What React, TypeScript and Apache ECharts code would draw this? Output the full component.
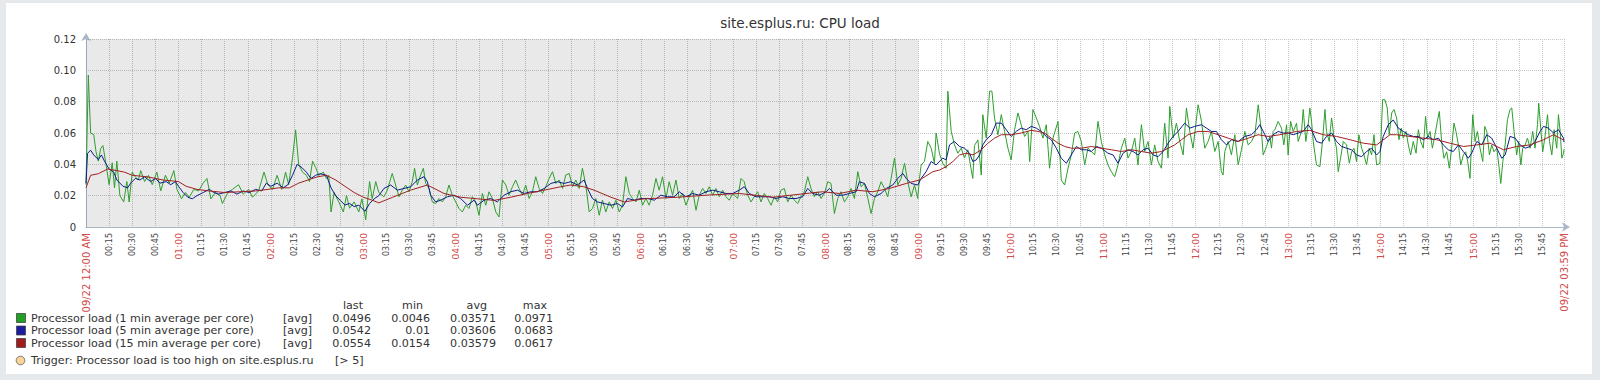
import React, { useEffect, useRef } from "react";
import * as echarts from "echarts";

// time in minutes since 09/22 00:00, value = load
const load1: [number, number][] = [
  [0,0.027],[1.5,0.097],[3,0.060],[5,0.059],[6.5,0.048],[8,0.042],[9.5,0.050],[11,0.052],[13,0.040],[15,0.027],[17,0.041],[18.5,0.025],[20,0.042],[22,0.020],[24.5,0.016],[26.5,0.029],[28,0.016],[30,0.035],[32,0.032],[34,0.030],[35.5,0.036],[38,0.029],[40.5,0.033],[43,0.027],[46,0.035],[48.5,0.023],[51.5,0.033],[54,0.028],[57,0.036],[59,0.024],[62,0.018],[64.5,0.022],[67,0.019],[70,0.024],[73,0.023],[76,0.028],[78.5,0.031],[81,0.018],[84,0.022],[87,0.020],[88.5,0.015],[92,0.022],[95,0.024],[99,0.027],[102,0.021],[105.5,0.024],[108,0.019],[112,0.023],[115.5,0.035],[118,0.027],[121,0.024],[124,0.033],[127,0.024],[129.5,0.035],[131.5,0.027],[134,0.044],[136,0.062],[138,0.040],[140.5,0.035],[143,0.033],[145,0.029],[147,0.042],[149,0.038],[151,0.033],[154,0.035],[156,0.031],[157.5,0.033],[159,0.0096],[161,0.022],[164,0.016],[167,0.0096],[169,0.020],[171,0.012],[174,0.016],[177,0.0096],[179,0.018],[181.5,0.0046],[184,0.029],[185.7,0.018],[188,0.029],[190,0.022],
  [193.3,0.0193],[195.5,0.0235],[198.7,0.0342],[200.9,0.0268],[203.1,0.0193],[205.2,0.0235],[207.4,0.0268],[209.6,0.0225],[211.7,0.0289],[213.2,0.0375],[215,0.0268],[217.1,0.0332],[218.9,0.0375],[220.4,0.0278],[222.6,0.0246],[224.7,0.016],[226.9,0.015],[229,0.0182],[231.2,0.016],[233.4,0.0193],[235.5,0.0268],[237.7,0.0203],[239.9,0.016],[242,0.0118],[244.2,0.0096],[246.4,0.0139],[248.5,0.0118],[250.7,0.0193],[252.9,0.016],[255,0.0075],[257.2,0.0214],[259.4,0.0139],[261.5,0.0225],[263.7,0.0182],[265.9,0.0096],[268,0.0064],[270.2,0.030],[272.4,0.0268],[274.5,0.0203],[276.7,0.0257],[278.8,0.030],[281,0.0246],[283.2,0.0203],[285.3,0.0268],[287.5,0.0182],[289.7,0.0225],[291.8,0.0321],[294,0.0246],[296.2,0.0214],[298.3,0.0257],[300.5,0.031],[302.7,0.0353],[304.8,0.0278],[307,0.030],[309.2,0.0246],[311.3,0.0332],[313.5,0.0342],[315.7,0.0257],[317.8,0.030],[320,0.0246],[322.1,0.0375],[324.3,0.0268],[326.5,0.0096],[328.6,0.0118],[330.8,0.0182],[333,0.0075],[335.1,0.0171],[337.3,0.0096],[339.5,0.016],[341.6,0.0118],[343.8,0.0171],[346,0.0096],[348.1,0.0139],[350.3,0.0321],[352.5,0.0214],[354.6,0.0182],[356.8,0.016],[359,0.0235],[361.1,0.0139],[363.3,0.0182],[365.4,0.0139],[367.6,0.0203],[369.8,0.031],[371.9,0.0235],[374.1,0.0321],[376.3,0.0182],[378.4,0.0289],[380.6,0.0203],
  [382.8,0.030],[384.9,0.0182],[387.1,0.0214],[389.3,0.0139],[391.4,0.0193],[393.6,0.0235],[395.8,0.0107],[397.9,0.0203],[400.1,0.0246],[402.3,0.0214],[404.4,0.0257],[406.6,0.0203],[408.7,0.0246],[410.9,0.0193],[413.1,0.0235],[415.2,0.0193],[417.4,0.0171],[419.6,0.0214],[422.8,0.0182],[425,0.031],[427.1,0.0289],[429.3,0.0203],[431.5,0.016],[433.6,0.0193],[435.8,0.0225],[438,0.016],[440.1,0.0214],[442.3,0.0182],[444.5,0.0139],[446.6,0.0193],[448.8,0.016],[450.9,0.0235],[453.1,0.0246],[455.3,0.016],[457.5,0.0203],[459.6,0.0171],[461.8,0.015],[463.9,0.0193],[466.1,0.0225],[468.3,0.0321],[470.4,0.0246],[472.6,0.0193],[474.8,0.0225],[476.9,0.0182],[479.1,0.0214],[481.3,0.0289],[483.4,0.0278],[485.6,0.0086],[487.8,0.0182],[489.9,0.0225],[492.1,0.016],[494.3,0.0193],[496.4,0.0246],[498.6,0.0182],[500.8,0.0353],[502.9,0.0257],[505.1,0.0278],[507.3,0.0182],[509.4,0.0086],[511.6,0.0182],[513.7,0.0225],[515.9,0.0289],[518.1,0.0246],[520.2,0.0193],[522.4,0.031],[524.6,0.044],[526.7,0.0268],[528.9,0.031],[531.1,0.0407],[533.2,0.0289],[535.4,0.0193],[537.6,0.0268],[539.7,0.0182],[540.8,0.031],[541.9,0.0396],[544,0.0418],[546.2,0.0546],[548.4,0.0503],[550.5,0.0407],[551.6,0.060],[553.8,0.0467],[555.9,0.0407],[558.1,0.0375],[559.2,0.0867],[561.4,0.061],[563.5,0.0525],[565.7,0.0471],[567.9,0.0503],[570,0.044],[572.2,0.0493],[574.4,0.0364],
  [575.4,0.031],[576.5,0.052],[578.7,0.0556],[580.9,0.0332],[581.9,0.0717],[584.1,0.0567],[586.3,0.0867],[587.8,0.0867],[589.5,0.0696],[591.7,0.0589],[593.9,0.0717],[596,0.061],[598.2,0.0503],[600.3,0.0428],[602.5,0.0621],[604.7,0.0728],[606.8,0.0653],[609,0.0578],[611.2,0.061],[612.3,0.0417],[614.4,0.075],[616.6,0.0696],[618.7,0.0642],[620.9,0.0567],[623.1,0.0653],[625.2,0.0375],[627.4,0.0567],[630.7,0.0674],[632.8,0.030],[635,0.0268],[637.2,0.0375],[639.3,0.046],[641.5,0.06],[643.6,0.061],[645.8,0.0546],[648,0.0396],[650.1,0.0503],[652.3,0.0482],[654.5,0.046],[656.6,0.0674],[658.8,0.0546],[661,0.046],[663.1,0.0396],[665.3,0.0353],[667.5,0.0321],[669.6,0.0396],[671.8,0.0503],[674,0.0567],[676.1,0.044],[678.3,0.0482],[680.5,0.0567],[682.6,0.0396],[684.8,0.0653],[686.9,0.0482],[689.1,0.0546],[691.3,0.0396],[693.4,0.0524],[695.6,0.0418],[697.8,0.0375],[699.9,0.0663],[702.1,0.044],[703.2,0.077],[705.4,0.0567],[707.5,0.0663],[709.7,0.0546],[711.9,0.046],[714,0.076],[716.2,0.061],[718.3,0.0503],[721.6,0.078],[723.8,0.0674],[725.9,0.0503],[728.1,0.0546],[730.2,0.061],[732.4,0.0482],[734.6,0.0546],[736.7,0.0353],[737.8,0.0332],[738.9,0.0482],[741.1,0.0546],[743.2,0.046],[745.4,0.0589],[747.6,0.0396],[749.7,0.0493],[751.9,0.061],[754.1,0.0524],[756.2,0.0546],[758.4,0.0589],[760.6,0.078],[762.7,0.061],[763.8,0.046],
  [766,0.0514],[768.1,0.0578],[769.2,0.0503],[770.3,0.061],[771.4,0.0621],[773.5,0.0674],[775.7,0.0631],[777.2,0.0524],[779,0.0653],[780,0.046],[781.6,0.0674],[783.3,0.061],[785.5,0.0663],[786.5,0.0546],[788.7,0.061],[789.8,0.075],[791.5,0.0546],[793,0.0653],[794.1,0.076],[795.2,0.0674],[796.3,0.0546],[798.4,0.0396],[800.6,0.0385],[802.3,0.0546],[803.9,0.075],[804.9,0.061],[806.7,0.0546],[808.2,0.0696],[809.7,0.0578],[811.4,0.0503],[812.5,0.0353],[814,0.0439],[815.8,0.0546],[817.9,0.0524],[819.7,0.0407],[821.2,0.048],[822.7,0.0503],[824.4,0.0418],[825.9,0.0589],[827.7,0.0503],[829.2,0.046],[830.9,0.0396],[832.6,0.0503],[834.2,0.046],[835.7,0.0589],[837.4,0.0396],[839.6,0.0407],[841.3,0.0813],[842.8,0.0813],[844.3,0.076],[845.6,0.0589],[847.2,0.0728],[848.7,0.075],[850.4,0.0696],[851.9,0.0557],[853.4,0.0631],[854.7,0.0567],[856.5,0.061],[858,0.0524],[859.5,0.046],[861.2,0.0546],[863,0.0471],[864.5,0.0621],[866,0.0546],[867.7,0.0503],[869.2,0.0706],[870.5,0.0567],[872.1,0.061],[873.6,0.0503],[875.3,0.0589],[876.8,0.0674],[878.1,0.0738],[879.6,0.0546],[881.1,0.0439],[882.9,0.048],[884.6,0.0375],[886.1,0.0503],[887.6,0.0663],[888.9,0.061],[890.5,0.0524],[892,0.0396],[893.7,0.046],[895.2,0.048],[896.5,0.0418],[898,0.031],[899.8,0.0717],[901.3,0.0546],[902.8,0.061],[904.5,0.0503],[906.3,0.0418],[907.6,0.0642],[908.9,0.061],[910.6,0.046],[912.1,0.0524],[913.6,0.048],[915.4,0.0503],[916.7,0.0396],[918,0.0278],[919.3,0.0418],[920.8,0.0524],[922.3,0.0685],[924,0.075],[925.1,0.076],[926.6,0.061],[928.3,0.046],[929.6,0.0546],[931,0.0396],[932.2,0.0503],[933.8,0.0524],[935.3,0.0567],[937,0.0503],[938.7,0.061],[940.2,0.0503],[941.8,0.0653],[942.6,0.079],[943.9,0.0631],[945.2,0.048],[946.7,0.0578],[948.3,0.0717],[949.6,0.0546],[951.1,0.046],[952.6,0.0621],[954.3,0.0503],[955.4,0.0717],[956.5,0.061],[957.6,0.0439],[958.7,0.0471],[959,0.0496]
];

const load5: [number, number][] = [
  [0,0.028],[1,0.047],[3,0.049],[5,0.046],[8,0.043],[10,0.046],[12,0.042],[15,0.037],[18,0.035],[20,0.030],[24,0.026],[27,0.025],[29,0.028],[32,0.031],[35,0.030],[38,0.032],[42,0.029],[45,0.031],[48,0.028],[52,0.029],[55,0.027],[58,0.029],[60,0.026],[63,0.022],[66,0.019],[69,0.018],[72,0.020],[76,0.022],[80,0.024],[83,0.022],[86,0.021],[90,0.022],[94,0.023],[98,0.021],[102,0.023],[106,0.022],[110,0.024],[114,0.023],[117,0.028],[120,0.026],[124,0.028],[128,0.025],[131,0.027],[134,0.033],[137,0.040],[140,0.038],[143,0.035],[146,0.031],[149,0.033],[152,0.034],[156,0.033],[159,0.025],[162,0.020],[165,0.017],[168,0.014],[171,0.015],[174,0.013],[177,0.014],[181,0.010],[184,0.015],[187,0.018],[190,0.020],
  [193.3,0.0246],[197.7,0.0268],[202,0.0235],[206.3,0.0246],[210.7,0.0257],[215,0.030],[219.3,0.0321],[221.5,0.0289],[223.6,0.0203],[226.9,0.016],[230.1,0.0171],[234.5,0.0193],[238.8,0.0203],[243.1,0.0182],[247.5,0.0139],[251.8,0.0171],[254,0.0139],[258.3,0.0171],[262.6,0.0182],[266.9,0.016],[271.3,0.0203],[275.6,0.0225],[279.9,0.0235],[284.3,0.0214],[288.6,0.0225],[292.9,0.0225],[297.3,0.0246],[301.6,0.0278],[305.9,0.0289],[310.2,0.0278],[314.6,0.0289],[318.9,0.0268],[323.2,0.030],[325.4,0.0246],[328.6,0.0182],[331.9,0.016],[336.2,0.015],[340.6,0.0139],[344.9,0.015],[348.1,0.0128],[351.4,0.0182],[355.7,0.0171],[360,0.0182],[364.4,0.0182],[368.7,0.0171],[373,0.0203],[377.4,0.0193],[381.7,0.0193],
  [384.9,0.0225],[389.3,0.0193],[393.6,0.0214],[397.9,0.0203],[402.3,0.0225],[406.6,0.0235],[410.9,0.0225],[415.2,0.0214],[419.6,0.0214],[423.9,0.0235],[427.1,0.0257],[430.4,0.0214],[434.7,0.0193],[439,0.0193],[443.4,0.0193],[447.7,0.0182],[452,0.0193],[456.4,0.0182],[460.7,0.0182],[465,0.0193],[468.3,0.0246],[471.5,0.0214],[475.9,0.0203],[480.2,0.0225],[482.4,0.0246],[486.7,0.0203],[491,0.0203],[495.3,0.0214],[499.7,0.0225],[501.8,0.0289],[505.1,0.0278],[508.3,0.0214],[511.6,0.0193],[515.9,0.0214],[519.2,0.0246],[523.5,0.0268],[526.7,0.031],[530,0.0342],[532.2,0.031],[535.4,0.0278],[539.7,0.0268],[541.9,0.031],[545.1,0.0353],[548.4,0.0418],[551.6,0.0396],[555.9,0.044],[558.1,0.0428],[560.3,0.0524],[563.5,0.0546],[566.8,0.0514],[570,0.0503],[573.3,0.0471],
  [575.4,0.0418],[577.6,0.0428],[579.8,0.046],[581.9,0.0524],[584.1,0.0557],[587.4,0.0589],[590.6,0.0663],[593.9,0.0663],[597.1,0.0621],[600.3,0.0578],[603.6,0.061],[606.8,0.0631],[610.1,0.0621],[613.3,0.0642],[616.6,0.0631],[619.8,0.061],[623.1,0.0578],[626.3,0.0557],[629.6,0.0503],[632.8,0.0439],[636.1,0.0407],[639.3,0.046],[642.6,0.0514],[645.8,0.0493],[649.1,0.0493],[652.3,0.0482],[655.6,0.0514],[658.8,0.0503],[663.1,0.0471],[666.4,0.046],[669.6,0.0407],[672.9,0.0471],[676.1,0.0493],[679.4,0.0482],[682.6,0.046],[685.9,0.0493],[689.1,0.0503],[692.4,0.046],[695.6,0.0449],[698.9,0.0482],[702.1,0.0535],[705.4,0.0578],[708.6,0.061],[712.9,0.0663],[716.2,0.0631],[719.4,0.0642],[723.8,0.0653],[727,0.0631],[730.2,0.061],[733.5,0.061],[736.7,0.0557],[740,0.0524],[743.2,0.0557],[747.6,0.0546],[751.9,0.0578],[756.2,0.0589],[759.5,0.0621],[761.6,0.0653],[764.9,0.0589],
  [767,0.0546],[770.3,0.0589],[773.5,0.061],[776.8,0.06],[780,0.06],[783.3,0.0589],[786.5,0.06],[789.8,0.061],[793,0.0653],[795.2,0.0621],[798.4,0.0546],[801.7,0.0535],[804.9,0.0578],[808.2,0.06],[811.4,0.0546],[814.7,0.0514],[817.9,0.0503],[821.2,0.0493],[824.4,0.046],[827.7,0.0449],[830.9,0.0482],[834.2,0.0503],[837.4,0.046],[839.6,0.0482],[841.7,0.0578],[845,0.0653],[848.2,0.0683],[851.5,0.0631],[854.7,0.061],[858,0.0589],[861.2,0.0578],[864.5,0.0578],[867.7,0.0557],[871,0.0578],[874.2,0.0557],[877.5,0.0567],[880.7,0.0524],[883.9,0.0493],[887.2,0.0482],[890.5,0.0524],[893.7,0.0482],[896.9,0.0439],[899.1,0.0471],[902.4,0.0546],[905.6,0.0524],[908.9,0.0589],[912.1,0.0567],[915.4,0.0503],[918.6,0.0439],[920.8,0.046],[924,0.0578],[927.3,0.0567],[930.5,0.0524],[933.8,0.0503],[937,0.0514],[940.2,0.0546],[943.5,0.061],[945.7,0.0642],[948.9,0.0631],[952.2,0.06],[955.4,0.0621],[958.7,0.0567],[959,0.0542]
];

const load15: [number, number][] = [
  [0,0.025],[3,0.033],[8,0.034],[14,0.037],[20,0.036],[25,0.035],[30,0.033],[40,0.032],[50,0.030],[60,0.029],[65,0.026],[72,0.024],[80,0.023],[90,0.022],[100,0.0225],[110,0.023],[118,0.024],[125,0.025],[132,0.025],[138,0.028],[144,0.030],[150,0.032],[156,0.033],[162,0.030],[168,0.026],[174,0.022],[180,0.019],[186,0.017],[190,0.0154],
  [199,0.019],[210.6,0.0235],[221.5,0.0268],[232.3,0.0214],[243.1,0.019],[254,0.018],[264.8,0.017],[275.6,0.019],[286.4,0.0214],[297.3,0.0235],[308,0.0257],[314.6,0.0268],[323,0.0257],[329.7,0.0235],[340.6,0.019],[349.2,0.016],[362.2,0.018],[373,0.0185],[384,0.019],
  [402.3,0.0203],[423.9,0.0214],[445.6,0.019],[467.2,0.0214],[478,0.0225],[488.9,0.0214],[499.7,0.0235],[510.5,0.0225],[521.3,0.0246],[532.2,0.0278],[540.8,0.030],[549.5,0.0353],[553.8,0.0364],[558.1,0.0385],[562.5,0.0418],[566.8,0.046],[571.1,0.0471],[575.5,0.046],
  [580.9,0.0493],[585.2,0.0535],[589.5,0.0567],[593.9,0.0589],[600.3,0.0589],[606.8,0.060],[613.3,0.0617],[617.7,0.061],[622,0.060],[626.3,0.0567],[630.7,0.0535],[635,0.0514],[639.3,0.0503],[645.8,0.0503],[652.3,0.0514],[658.8,0.0503],[665.3,0.0493],[671.8,0.0482],[678.3,0.0493],[684.8,0.0482],[691.3,0.0471],[697.8,0.0482],[702.1,0.0503],[706.4,0.0524],[710.8,0.0557],[715.1,0.0589],[721.6,0.061],[728.1,0.061],[734.6,0.0589],[741.1,0.0567],[747.6,0.0546],[754.1,0.0567],[760.6,0.0589],[767,0.0578],
  [774.6,0.0589],[785.5,0.061],[794.1,0.0617],[802.8,0.0589],[811.4,0.0578],[820.1,0.0557],[828.8,0.0535],[837.4,0.0524],[846.1,0.0589],[850.4,0.0589],[859.1,0.0578],[867.7,0.0567],[876.4,0.0557],[885,0.0535],[893.7,0.0514],[902.4,0.0524],[911,0.0535],[919.7,0.0493],[928.3,0.0514],[937,0.0524],[945.7,0.0557],[952.2,0.0589],[959,0.0554]
];

const seriesNames = [
  "Processor load (1 min average per core)",
  "Processor load (5 min average per core)",
  "Processor load (15 min average per core)",
];
const lineColors = ["#2e9e2e", "#0c1c8c", "#a02020"];
const boxColors = ["#22a022", "#1c1ca0", "#a01c1c"];
const statHeaders = ["last", "min", "avg", "max"];
const statValues = [
  ["0.0496", "0.0046", "0.03571", "0.0971"],
  ["0.0542", "0.01", "0.03606", "0.0683"],
  ["0.0554", "0.0154", "0.03579", "0.0617"],
];
const yTicks = { min: 0, max: 0.12, interval: 0.02 };
const xRange = { min: 0, max: 959, interval: 15 };
const workStart = 540; // 09:00
const titleText = "site.esplus.ru: CPU load";
const triggerText = "Trigger: Processor load is too high on site.esplus.ru";
const triggerLimit = "[> 5]";

const FONT = "DejaVu Sans";
const LEG = 11.1;

function pad(n: number) {
  return n < 10 ? "0" + n : "" + n;
}

export default function App() {
  const ref = useRef<HTMLDivElement>(null);
  useEffect(() => {
    if (!ref.current) return;
    const chart = echarts.init(ref.current, undefined, { renderer: "svg" });

    const xFormatter = (v: number) => {
      if (v === 0) return "{d|09/22 12:00 AM}";
      if (v === 959) return "{d|09/22 03:59 PM}";
      const h = Math.floor(v / 60);
      const m = Math.round(v % 60);
      const s = pad(h) + ":" + pad(m);
      return m === 0 ? "{h|" + s + "}" : "{m|" + s + "}";
    };

    const colX = [371, 430, 496, 553];
    const headX = [363, 423, 487, 547];
    const rowY = [318, 330.5, 343];

    const graphic: any[] = [
      { type: "rect", shape: { x: 0, y: 0, width: 1600, height: 3 }, style: { fill: "#e6e9ec" }, silent: true },
      { type: "rect", shape: { x: 0, y: 0, width: 6, height: 380 }, style: { fill: "#e6e9ec" }, silent: true },
      { type: "rect", shape: { x: 1592, y: 0, width: 8, height: 380 }, style: { fill: "#e6e9ec" }, silent: true },
      { type: "rect", shape: { x: 0, y: 374, width: 1600, height: 6 }, style: { fill: "#e6e9ec" }, silent: true },
      {
        type: "text",
        x: 800,
        y: 23,
        style: { text: titleText, fill: "#333", fontSize: 13.5, fontFamily: FONT, align: "center", verticalAlign: "middle" },
      },
    ];
    statHeaders.forEach((h, i) => {
      graphic.push({
        type: "text",
        x: headX[i],
        y: 305,
        style: { text: h, fill: "#333", fontSize: LEG, fontFamily: FONT, align: "right", verticalAlign: "middle" },
      });
    });
    seriesNames.forEach((name, r) => {
      graphic.push({
        type: "rect",
        shape: { x: 16.5, y: rowY[r] - 4.5, width: 9, height: 9 },
        style: { fill: boxColors[r], stroke: "#444", lineWidth: 0.8 },
      });
      graphic.push({
        type: "text",
        x: 31,
        y: rowY[r],
        style: { text: name, fill: "#333", fontSize: LEG, fontFamily: FONT, align: "left", verticalAlign: "middle" },
      });
      graphic.push({
        type: "text",
        x: 283,
        y: rowY[r],
        style: { text: "[avg]", fill: "#333", fontSize: LEG, fontFamily: FONT, align: "left", verticalAlign: "middle" },
      });
      statValues[r].forEach((v, i) => {
        graphic.push({
          type: "text",
          x: colX[i],
          y: rowY[r],
          style: { text: v, fill: "#333", fontSize: LEG, fontFamily: FONT, align: "right", verticalAlign: "middle" },
        });
      });
    });
    graphic.push({
      type: "circle",
      shape: { cx: 20.5, cy: 360.5, r: 4.3 },
      style: { fill: "#fbd49a", stroke: "#555", lineWidth: 0.8 },
    });
    graphic.push({
      type: "text",
      x: 31,
      y: 360.5,
      style: { text: triggerText, fill: "#333", fontSize: LEG, fontFamily: FONT, align: "left", verticalAlign: "middle" },
    });
    graphic.push({
      type: "text",
      x: 335,
      y: 360.5,
      style: { text: triggerLimit, fill: "#333", fontSize: LEG, fontFamily: FONT, align: "left", verticalAlign: "middle" },
    });

    const axisColor = "#a9b7c6";
    const data = [load1, load5, load15];

    chart.setOption({
      animation: false,
      backgroundColor: "#ffffff",
      textStyle: { fontFamily: FONT },
      grid: { left: 86, right: 36, top: 39, bottom: 153, containLabel: false, outerBoundsMode: "none" },
      xAxis: {
        type: "value",
        min: xRange.min,
        max: xRange.max,
        interval: xRange.interval,
        axisLine: {
          show: true,
          lineStyle: { color: axisColor, width: 1 },
          symbol: ["none", "arrow"],
          symbolSize: [7, 8],
          symbolOffset: [0, 6],
        },
        axisTick: { show: false },
        splitLine: { show: true, lineStyle: { type: "dotted", color: "#c6c6c6", width: 1 } },
        axisLabel: {
          rotate: 90,
          margin: 6,
          showMinLabel: true,
          showMaxLabel: true,
          hideOverlap: false,
          formatter: xFormatter,
          rich: {
            d: { fontSize: 10, color: "#d24b4b", fontFamily: FONT },
            h: { fontSize: 9.2, color: "#d24b4b", fontFamily: FONT },
            m: { fontSize: 8, color: "#444", fontFamily: FONT },
          },
        },
      },
      yAxis: {
        type: "value",
        min: yTicks.min,
        max: yTicks.max,
        interval: yTicks.interval,
        axisLine: {
          show: true,
          lineStyle: { color: axisColor, width: 1 },
          symbol: ["none", "arrow"],
          symbolSize: [7, 8],
          symbolOffset: [0, 6],
        },
        axisTick: { show: false },
        splitLine: { show: true, lineStyle: { type: "dotted", color: "#c6c6c6", width: 1 } },
        axisLabel: {
          margin: 10,
          fontSize: 10,
          color: "#333",
          fontFamily: FONT,
          formatter: (v: number) => (v === 0 ? "0" : v.toFixed(2)),
        },
      },
      series: data.map((d, i) => ({
        name: seriesNames[i],
        type: "line",
        data: d,
        showSymbol: false,
        symbol: "none",
        lineStyle: { color: lineColors[i], width: 1 },
        itemStyle: { color: lineColors[i] },
        z: 3 + i,
        silent: true,
        markArea:
          i === 0
            ? {
                silent: true,
                itemStyle: { color: "rgba(0,0,0,0.085)" },
                data: [[{ xAxis: xRange.min }, { xAxis: workStart }]],
              }
            : undefined,
      })),
      graphic,
    });
    return () => chart.dispose();
  }, []);

  return (
    <div
      ref={ref}
      style={{ position: "absolute", left: 0, top: 0, width: 1600, height: 380 }}
    />
  );
}
